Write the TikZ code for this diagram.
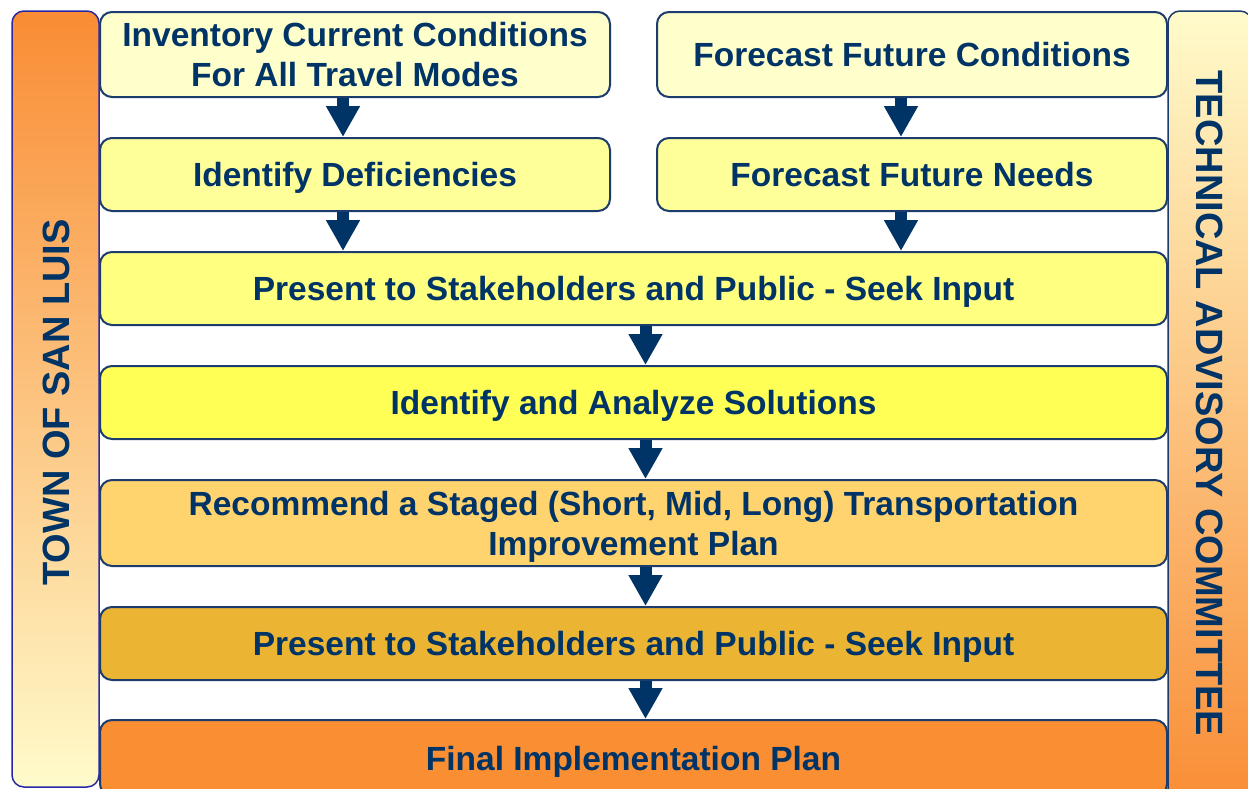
\documentclass[tikz,border=0pt]{standalone}
\usepackage{fontspec}
\setmainfont{Liberation Sans}
\usetikzlibrary{arrows.meta,calc}
\definecolor{txt}{RGB}{0,51,102}
\definecolor{edge}{RGB}{27,60,108}
\definecolor{leftedge}{RGB}{40,40,165}
\definecolor{orangeA}{RGB}{249,140,52}
\definecolor{paleY}{RGB}{255,251,203}
\definecolor{cA}{RGB}{255,255,204}
\definecolor{cB}{RGB}{255,255,153}
\definecolor{cC}{RGB}{255,255,128}
\definecolor{cD}{RGB}{255,255,85}
\definecolor{cE}{RGB}{255,211,110}
\definecolor{cF}{RGB}{235,181,51}
\definecolor{cG}{RGB}{249,142,51}
\begin{document}
\begin{tikzpicture}[x=1pt,y=-1pt,
  box/.style={draw=edge, line width=2pt, rounded corners=12pt, text=txt,
    font=\fontsize{33.5}{40}\selectfont\bfseries, align=center, inner sep=0pt, text depth=0pt},
  narrow/.style={box, minimum width=510pt},
  wide/.style={box, minimum width=1067pt},
  blockarrow/.style={draw=txt, line width=12pt, -{Triangle[width=32pt,length=31pt]}},
  sidebar/.style={line width=1.5pt, rounded corners=12pt, inner sep=0pt},
  sidetext/.style={text=txt, font=\fontsize{38}{44}\selectfont\bfseries, inner sep=0pt}]
\useasboundingbox (0,0) rectangle (1248,788);
\clip (0,0) rectangle (1248,788);
\fill[white] (0,0) rectangle (1248,788);

% side bars
\node[sidebar, draw=leftedge, top color=orangeA, bottom color=paleY,
  minimum width=87pt, minimum height=776pt] (town) at (55.5,399) {};
\node[sidetext, rotate=90] (townt) at (56,402.5) {TOWN OF SAN LUIS};
\node[sidebar, draw=edge, top color=paleY, bottom color=orangeA,
  minimum width=84pt, minimum height=800pt] (tac) at (1210,411) {};
\node[sidetext, rotate=-90] (tact) at (1210,403.5) {TECHNICAL ADVISORY COMMITTEE};

% boxes
\node[narrow, fill=cA, minimum height=85pt] (inv) at (355,54.5) {Inventory Current Conditions\\For All Travel Modes};
\node[narrow, fill=cA, minimum height=85pt] (ffc) at (912,54.5) {Forecast Future Conditions};
\node[narrow, fill=cB, minimum height=73pt] (idd) at (355,174.5) {Identify Deficiencies};
\node[narrow, fill=cB, minimum height=73pt] (ffn) at (912,174.5) {Forecast Future Needs};
\node[wide, fill=cC, minimum height=73pt] (p1) at (633.5,288.5) {Present to Stakeholders and Public - Seek Input};
\node[wide, fill=cD, minimum height=73pt] (ias) at (633.5,402.5) {Identify and Analyze Solutions};
\node[wide, fill=cE, minimum height=86pt] (rec) at (633.5,523) {Recommend a Staged (Short, Mid, Long) Transportation\\Improvement Plan};
\node[wide, fill=cF, minimum height=73pt] (p2) at (633.5,643.5) {Present to Stakeholders and Public - Seek Input};
\node[wide, fill=cG, minimum height=76pt] (fin) at (633.5,758) {Final Implementation Plan};

% arrows
\draw[blockarrow] ([xshift=-12pt]inv.south) -- ([xshift=-12pt]idd.north);
\draw[blockarrow] ([xshift=-11pt]ffc.south) -- ([xshift=-11pt]ffn.north);
\coordinate (a1) at ([xshift=-12pt]idd.south);
\coordinate (a2) at ([xshift=-11pt]ffn.south);
\draw[blockarrow] (a1) -- (a1 |- p1.north);
\draw[blockarrow] (a2) -- (a2 |- p1.north);
\draw[blockarrow] ([xshift=12pt]p1.south) -- ([xshift=12pt]ias.north);
\draw[blockarrow] ([xshift=12pt]ias.south) -- ([xshift=12pt]rec.north);
\draw[blockarrow] ([xshift=12pt]rec.south) -- ([xshift=12pt]p2.north);
\draw[blockarrow] ([xshift=12pt]p2.south) -- ([xshift=12pt]fin.north);
\end{tikzpicture}
\end{document}
